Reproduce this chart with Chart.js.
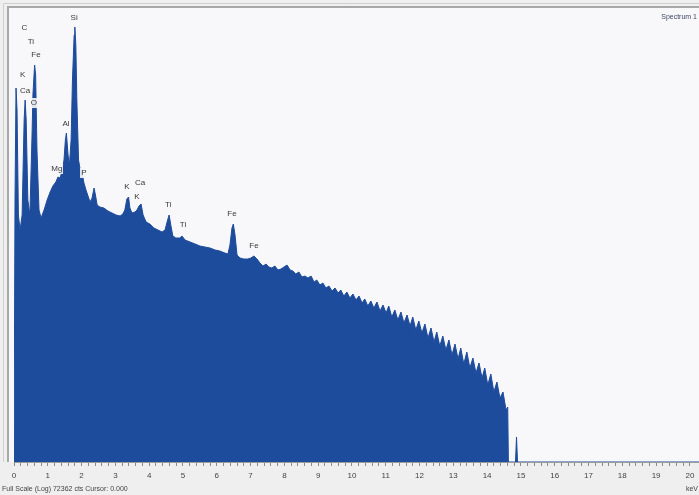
<!DOCTYPE html>
<html>
<head>
<meta charset="utf-8">
<script src="https://cdn.jsdelivr.net/npm/chart.js@4.4.1/dist/chart.umd.min.js"></script>
<style>
html,body{margin:0;padding:0;background:#efefef;}
#wrap{width:699px;height:495px;position:relative;}
canvas{display:block;}
</style>
</head>
<body>
<div id="wrap"><canvas id="c" width="699" height="495"></canvas></div>
<script>
// Energy (keV) of each spectrum sample
const energyKeV = [
 0,0.03,0.06,0.09,0.13,0.18,0.24,0.30,0.33,0.36,0.41,0.47,0.53,0.56,0.61,0.64,0.68,0.74,0.80,0.89,
 0.98,1.07,1.15,1.24,1.30,1.36,1.42,1.48,1.52,1.55,1.60,1.64,1.69,1.73,1.78,1.80,1.83,1.86,1.91,1.95,
 2.01,2.07,2.13,2.19,2.25,2.31,2.37,2.41,2.46,2.54,2.66,2.78,2.90,3.02,3.14,3.22,3.28,3.34,3.39,3.43,
 3.49,3.58,3.64,3.70,3.76,3.82,3.91,4.02,4.14,4.26,4.38,4.47,4.53,4.59,4.64,4.70,4.79,4.91,4.97,5.06,
 5.21,5.36,5.50,5.65,5.80,5.95,6.09,6.24,6.33,6.39,6.45,6.49,6.54,6.60,6.69,6.80,6.92,7.01,7.10,7.19,
 7.28,7.37,7.46,7.54,7.63,7.72,7.81,7.90,7.99,8.08,8.17,8.25,8.34,8.43,8.52,8.61,8.70,8.79,8.88,8.96,
 9.05,9.14,9.23,9.32,9.41,9.50,9.59,9.67,9.76,9.85,9.94,10.03,10.12,10.21,10.30,10.38,10.47,10.56,10.65,10.74,
 10.83,10.92,11.01,11.09,11.18,11.27,11.36,11.45,11.54,11.63,11.72,11.80,11.89,11.98,12.07,12.16,12.25,12.34,12.43,12.51,
 12.60,12.69,12.78,12.87,12.96,13.05,13.14,13.22,13.31,13.40,13.49,13.58,13.67,13.76,13.85,13.93,14.02,14.11,14.20,14.29,
 14.38,14.47,14.56,14.61,14.63,14.84,14.87,14.90,20.27
];
// Counts (display units, full scale = 454)
const counts = [
 0,262,374,352,247,232,247,342,362,342,262,247,322,367,397,387,312,252,244,252,
 262,270,276,280,285,284,290,302,322,329,307,297,322,382,427,435,417,362,302,294,
 290,279,272,266,260,264,274,267,257,255,254,251,249,247,246,248,252,263,265,254,
 249,250,252,256,258,247,240,238,234,232,230,232,240,247,237,226,224,224,226,222,
 220,218,216,215,214,212,211,209,208,217,234,238,227,207,204,203,203,204,206,203,
 199,196,198,195,194,196,192,193,195,197,192,191,188,190,185,186,184,186,180,182,
 177,179,174,176,171,174,169,172,166,170,164,168,162,166,159,163,156,161,154,160,
 151,157,149,156,145,152,142,150,139,147,136,145,132,141,129,138,124,134,120,130,
 116,126,112,122,107,118,103,114,98,110,94,104,89,99,84,94,77,88,70,80,
 64,70,52,55,0,0,25,0,0
];
const fullScale = 454;
const xMax = 20.27;
// Element peak labels
const peakNames = ["C","Ti","Fe","K","Ca","O","Si","Al","Mg","P","K","Ca","K","Ti","Ti","Fe","Fe"];
const peakKeV   = [0.31,0.50,0.65,0.26,0.33,0.59,1.78,1.54,1.27,2.07,3.34,3.73,3.64,4.56,5.00,6.45,7.10];
const peakLevel = [434,420,407,387,371,359,444,338,293,289,275,279,265,257,237,248,216];

const pts = energyKeV.map((e,i)=>({x:e,y:counts[i]}));

const decor = {
  id:'decor',
  beforeDraw(chart){
    const {ctx, chartArea:a} = chart;
    ctx.save();
    ctx.fillStyle='#efefef';
    ctx.fillRect(0,0,chart.width,chart.height);
    ctx.fillStyle='#f8f8fb';
    ctx.fillRect(9,8,chart.width-9,a.bottom-8);
    ctx.strokeStyle='#a8a8a8';
    ctx.lineWidth=2;
    ctx.beginPath();
    ctx.moveTo(8,a.bottom);ctx.lineTo(8,7);ctx.lineTo(chart.width,7);
    ctx.stroke();
    ctx.strokeStyle='#d0d0d0';
    ctx.lineWidth=1;
    ctx.beginPath();
    ctx.moveTo(3.5,a.bottom);ctx.lineTo(3.5,3.5);ctx.lineTo(chart.width,3.5);
    ctx.stroke();
    ctx.restore();
  },
  afterDatasetsDraw(chart){
    const {ctx, scales:{x,y}} = chart;
    ctx.save();
    ctx.font='8px "Liberation Sans", Arial, sans-serif';
    ctx.textAlign='center';ctx.textBaseline='middle';
    peakNames.forEach((n,i)=>{
      const px=x.getPixelForValue(peakKeV[i]), py=y.getPixelForValue(peakLevel[i]);
      const w=ctx.measureText(n).width+2;
      ctx.fillStyle='rgba(246,246,250,0.9)';
      ctx.fillRect(Math.round(px-w/2),Math.round(py-5),Math.round(w),10);
      ctx.fillStyle='#3a3a3a';
      ctx.fillText(n, px, py);
    });
    ctx.font='7px "Liberation Sans", Arial, sans-serif';
    ctx.fillStyle='#404a66';
    ctx.textAlign='right';
    ctx.fillText('Spectrum 1', chart.width-2, 17);
    ctx.fillStyle='#444';
    ctx.textAlign='left';
    ctx.fillText('Full Scale (Log) 72362 cts Cursor: 0.000', 2, 489);
    ctx.textAlign='right';
    ctx.fillText('keV', chart.width-1, 489);
    ctx.restore();
  }
};

new Chart(document.getElementById('c'), {
  type:'line',
  data:{datasets:[{
    data:pts,
    fill:'origin',
    backgroundColor:'rgb(30,76,156)',
    borderColor:'rgb(30,76,156)',
    borderWidth:1,
    pointRadius:0,
    tension:0
  }]},
  options:{
    responsive:false,
    animation:false,
    events:[],
    layout:{padding:{left:14,right:0,top:8,bottom:9.4}},
    plugins:{legend:{display:false},tooltip:{enabled:false}},
    scales:{
      x:{
        type:'linear',min:0,max:xMax,
        afterFit:(s)=>{s.paddingLeft=0;s.paddingRight=0;},
        border:{display:true,color:'#9a9a9a',width:1},
        grid:{drawOnChartArea:false,drawTicks:true,tickLength:4,color:'#8a8a8a'},
        ticks:{
          stepSize:0.2,autoSkip:false,maxRotation:0,padding:5,
          color:'#444',font:{size:8,family:'"Liberation Sans", Arial, sans-serif'},
          callback:(v)=>Math.abs(v-Math.round(v))<1e-6 ? String(Math.round(v)) : ''
        }
      },
      y:{display:false,min:0,max:fullScale}
    }
  },
  plugins:[decor]
});
</script>
</body>
</html>
